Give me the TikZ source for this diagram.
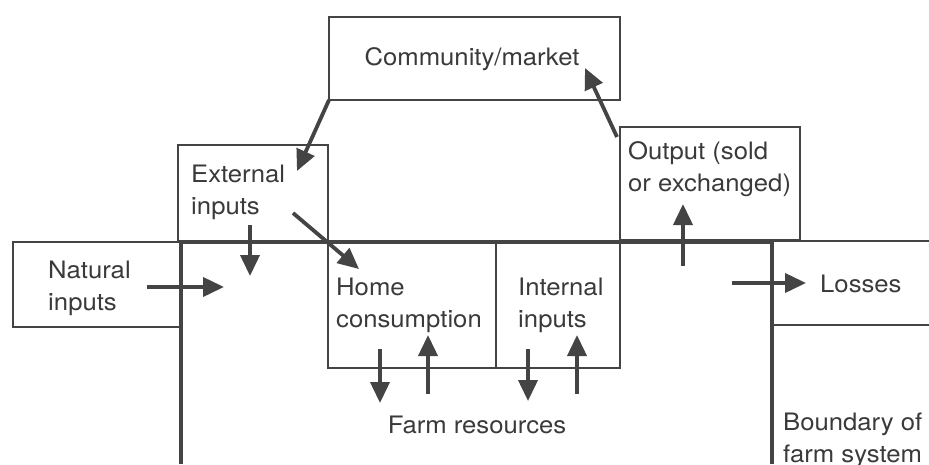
\documentclass[tikz,border=0pt]{standalone}
\usepackage{fontspec}
\setmainfont{TeX Gyre Heros}[FakeStretch=1.07]
\usetikzlibrary{arrows.meta}
\definecolor{ink}{HTML}{444444}
\definecolor{txt}{HTML}{3A3A3A}
\begin{document}
\begin{tikzpicture}[x=1pt,y=-1pt,
  box/.style={draw=ink,line width=1.8pt,rectangle,inner sep=0pt,outer sep=0pt,anchor=north west},
  bound/.style={draw=ink,line width=3.8pt},
  thin/.style={draw=ink,line width=1.8pt},
  arr/.style={draw=ink,line width=3.8pt,-{Triangle[length=21pt,width=19pt]}},
  lbl/.style={anchor=base west,inner sep=0pt,text=txt,font=\fontsize{24}{31.5}\selectfont,align=left},
  clbl/.style={anchor=base,inner sep=0pt,text=txt,font=\fontsize{24}{31.5}\selectfont}]
\useasboundingbox (0,0) rectangle (929,464);
\fill[white] (0,0) rectangle (929,464);

% boxes
\node[box,minimum width=291pt,minimum height=83pt] (cm) at (329,17) {};
\node[box,minimum width=150pt,minimum height=97pt] (ext) at (178,145) {};
\node[box,minimum width=180pt,minimum height=113pt] (out) at (620,127) {};
\node[box,minimum width=168pt,minimum height=85pt] (nat) at (13,242) {};
\node[box,minimum width=168pt,minimum height=126pt] (home) at (328,242) {};
\node[box,minimum width=124pt,minimum height=126pt] (int) at (496,242) {};

% losses box, open to the right
\coordinate (losTL) at (772,241);
\coordinate (losBL) at (772,325);
\coordinate (losBR) at (929,325);
\coordinate (losTR) at (929,241);
\draw[thin] (losTR) -- (losTL);
\draw[thin] (losBL) -- (losBR);

% boundary of the farm system
\coordinate (bBL) at (181,464);
\coordinate (bTL) at (181,242);
\coordinate (bTR) at (772,242);
\coordinate (bBR) at (772,464);
\draw[bound,line join=miter] (bBL) -- (bTL) -- (bTR) -- (bBR);

% arrow end points
\coordinate (extTip) at (297,171);
\coordinate (outStart) at (617,137);
\coordinate (cmTip) at (585,68);
\coordinate (edS) at (250,225);
\coordinate (edT) at (250,276);
\coordinate (ehS) at (293,213);
\coordinate (ehT) at (359,269);
\coordinate (nS) at (147,287);
\coordinate (nT) at (224,287);
\coordinate (oS) at (683,266);
\coordinate (oT) at (683,204);
\coordinate (lS) at (732,283);
\coordinate (lT) at (806,283);
\coordinate (hdS) at (380,349);
\coordinate (hdT) at (380,403);
\coordinate (huS) at (428,394);
\coordinate (huT) at (428,335);
\coordinate (idS) at (528,349);
\coordinate (idT) at (528,401);
\coordinate (iuS) at (577,394);
\coordinate (iuT) at (577,335);

% flows
\draw[arr] (cm.south west) -- (extTip);
\draw[arr] (outStart) -- (cmTip);
\draw[arr] (edS) -- (edT);
\draw[arr] (ehS) -- (ehT);
\draw[arr] (nS) -- (nT);
\draw[arr] (oS) -- (oT);
\draw[arr] (lS) -- (lT);
\draw[arr] (hdS) -- (hdT);
\draw[arr] (huS) -- (huT);
\draw[arr] (idS) -- (idT);
\draw[arr] (iuS) -- (iuT);

% labels (base anchor sits on the last line of a two-line label)
\node[clbl] (tcm) at (472,65) {Community/market};
\node[lbl] (text1) at (191,214) {External\\inputs};
\node[lbl] (tout) at (628,191) {Output (sold\\or exchanged)};
\node[lbl] (tnat) at (48,310) {Natural\\inputs};
\node[lbl] (thome) at (336,327) {Home\\consumption};
\node[lbl] (tint) at (518,327) {Internal\\inputs};
\node[lbl] (tlos) at (820,292) {Losses};
\node[clbl] (tfarm) at (477,433) {Farm resources};
\node[lbl] (tbound) at (783,462) {Boundary of\\farm system};
\end{tikzpicture}
\end{document}
